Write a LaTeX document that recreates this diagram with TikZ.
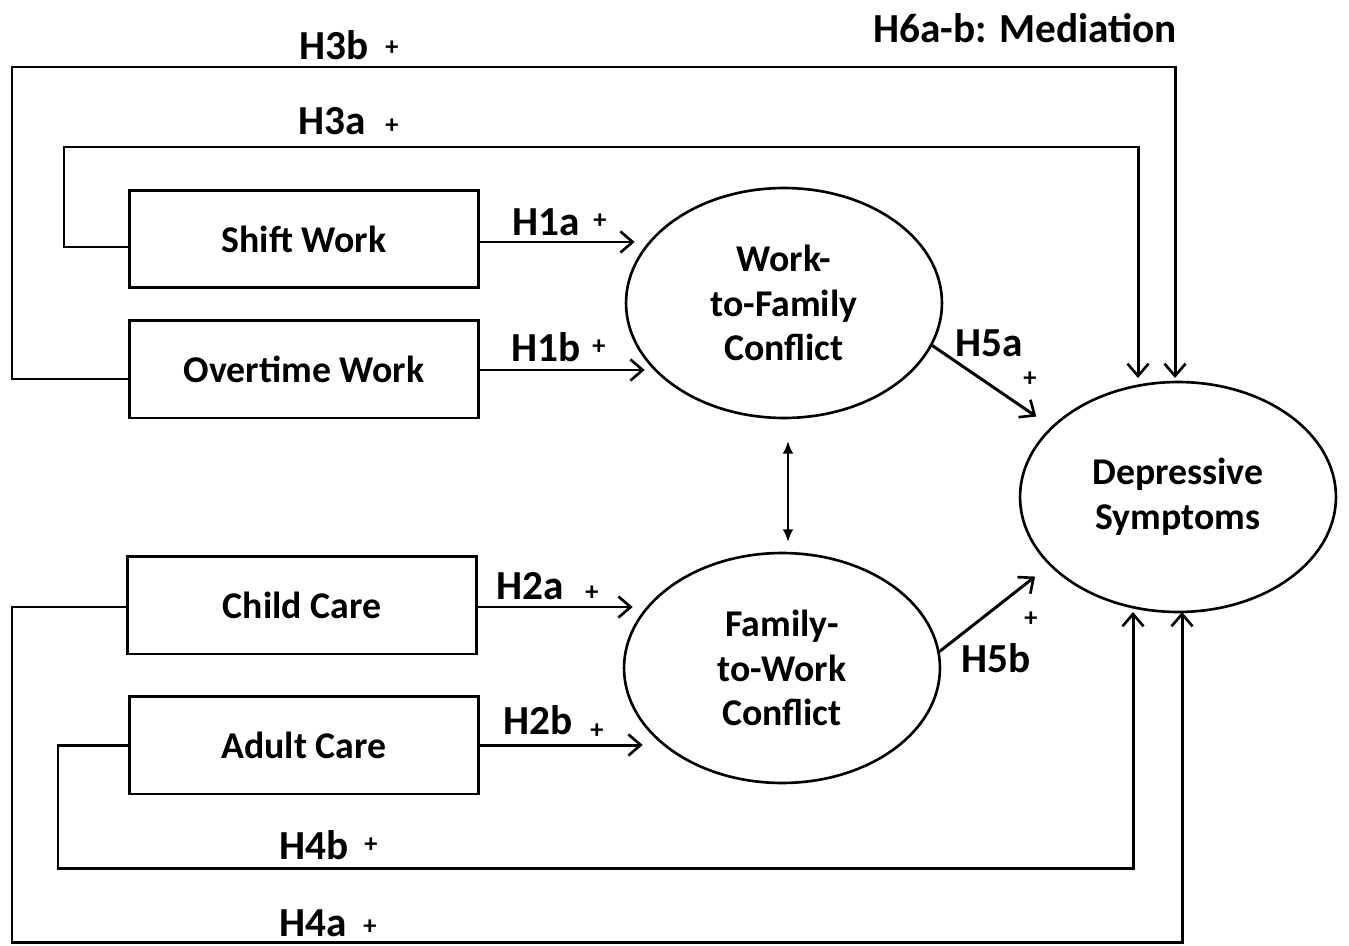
\documentclass[tikz,border=0pt]{standalone}
\usepackage{fontspec}
\setmainfont{Carlito}
\usetikzlibrary{arrows.meta,shapes.geometric}
\begin{document}
\begin{tikzpicture}[x=0.02cm,y=-0.02cm,
  txt/.style={font=\bfseries\fontsize{21.5}{25.5}\selectfont},
  lab/.style={font=\bfseries\fontsize{23.5}{26}\selectfont,inner sep=1pt},
  pl/.style={font=\bfseries\fontsize{15}{17}\selectfont,inner sep=1pt},
  box/.style={draw,line width=1.7pt,minimum width=7cm,minimum height=1.96cm,txt},
  ell/.style={draw,ellipse,line width=1.5pt,minimum width=6.32cm,minimum height=4.6cm,align=center,txt},
  arr/.style={line width=1.7pt,-{Straight Barb[length=7pt,width=12pt,line width=1.5pt]}},
  ln/.style={line width=1.7pt}]
\useasboundingbox (0,0) rectangle (1349,946);
% boxes
\node[box] (sw) at (304,239) {Shift Work};
\node[box] (ow) at (304,369) {Overtime Work};
\node[box] (cc) at (302,605) {Child Care};
\node[box] (ac) at (304,745) {Adult Care};
% ellipses
\node[ell] (wfc) at (784,303) {Work-\\to-Family\\Conflict};
\node[ell] (fwc) at (782,668) {Family-\\to-Work\\Conflict};
\node[ell] (dep) at (1178,497) {Depressive\\Symptoms};
% free ends and corners
\coordinate (k3b) at (12,67);
\coordinate (k3a) at (64,147);
\coordinate (k4a) at (12,942);
\coordinate (k4b) at (58,868);
\coordinate (t3b) at (1175,378);
\coordinate (t3a) at (1138,378);
\coordinate (t4a) at (1182,612);
\coordinate (t4b) at (1133,612);
% long paths
\draw[arr] ([yshift=-0.2cm]ow.west) -| (k3b) -| (t3b);
\draw[arr] ([yshift=-0.16cm]sw.west) -| (k3a) -| (t3a);
\draw[arr] ([yshift=-0.04cm]cc.west) -| (k4a) -| (t4a);
\draw[arr] (ac.west) -| (k4b) -| (t4b);
% direct paths
\draw[arr] ([yshift=-0.06cm]sw.east) -- ([yshift=-0.06cm,xshift=0.2cm]sw.east -| wfc.west);
\draw[arr] ([yshift=-0.02cm]ow.east) -- ([yshift=-0.02cm,xshift=0.4cm]ow.east -| wfc.west);
\draw[arr] ([yshift=-0.04cm]cc.east) -- ([yshift=-0.04cm,xshift=0.2cm]cc.east -| fwc.west);
\draw[arr] (ac.east) -- ([xshift=0.4cm]ac.east -| fwc.west);
\draw[arr,shorten >=0.36cm] (wfc.-16) -- (dep.151);
\draw[arr,shorten >=0.36cm] (fwc.6) -- (dep.208);
\draw[line width=1pt,{Latex[length=7pt,width=6pt]}-{Latex[length=7pt,width=6pt]},shorten <=0.44cm,shorten >=0.2cm] ([xshift=0.08cm]wfc.south) -- ([xshift=0.12cm]fwc.north);
% labels
\node[lab] (l3b) at (334,45) {H3b};   \node[pl] (p3b) at (392,48) {+};
\node[lab] (l3a) at (332,121) {H3a};  \node[pl] (p3a) at (392,126) {+};
\node[lab] (l1a) at (546,222) {H1a};  \node[pl] (p1a) at (600,221) {+};
\node[lab] (l1b) at (546,347) {H1b};  \node[pl] (p1b) at (599,347) {+};
\node[lab] (l2a) at (530,586) {H2a};  \node[pl] (p2a) at (592,593) {+};
\node[lab] (l2b) at (538,720) {H2b};  \node[pl] (p2b) at (597,731) {+};
\node[lab] (l4b) at (314,845) {H4b};  \node[pl] (p4b) at (371,845) {+};
\node[lab] (l4a) at (313,923) {H4a};  \node[pl] (p4a) at (370,927) {+};
\node[lab] (l5a) at (989,343) {H5a};  \node[pl] (p5a) at (1030,379) {+};
\node[lab] (l5b) at (996,658) {H5b};  \node[pl] (p5b) at (1031,619) {+};
\node[lab] (l6) at (1025,28) {H6a-b: Mediation};
\end{tikzpicture}
\end{document}
